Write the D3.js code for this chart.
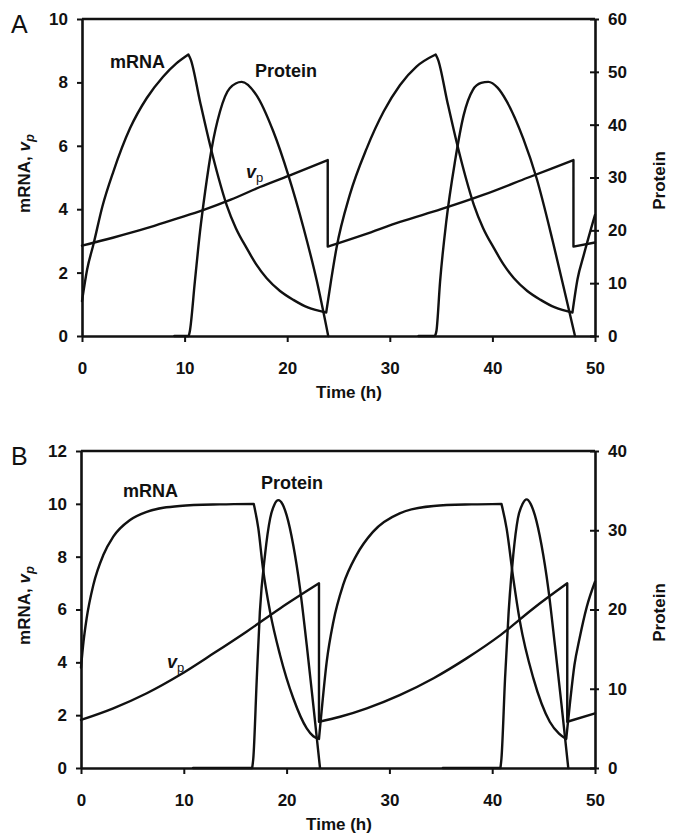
<!DOCTYPE html>
<html>
<head>
<meta charset="utf-8">
<script src="https://cdn.jsdelivr.net/npm/d3@7"></script>
<style>
  html, body { margin: 0; padding: 0; background: #fff; }
  svg { display: block; }
  text { font-family: "Liberation Sans", Arial, sans-serif; fill: #111; }
</style>
</head>
<body>
<svg id="chart" width="681" height="840"></svg>
<script>
// ---------------- DATA ----------------
// Panel A  (time in h, mRNA / vp on left axis, Protein on right axis)
const timeTicks = [0, 10, 20, 30, 40, 50];
const A_leftTicks = [0, 2, 4, 6, 8, 10];
const A_rightTicks = [0, 10, 20, 30, 40, 50, 60];
const B_leftTicks = [0, 2, 4, 6, 8, 10, 12];
const B_rightTicks = [0, 10, 20, 30, 40];

const A_mrna = [
  [0, 1.1], [0.5, 2.1], [1.1, 2.87], [2, 4.1], [3.05, 5.18], [4.68, 6.55], [6.3, 7.5],
  [7.9, 8.18], [9.2, 8.6], [10.37, 8.88], [10.37, 8.88], [10.6, 8.72], [11.5, 7.4],
  [12.5, 6.0], [13.3, 5.0], [14.1, 4.13], [15, 3.4], [16.05, 2.77], [17, 2.25], [18, 1.82],
  [19.3, 1.42], [20.6, 1.14], [22, 0.9], [23.8, 0.74], [23.8, 0.74],
  [24.3, 1.8], [24.8, 2.77], [26.1, 4.45], [27.75, 5.92], [29.4, 7.08], [31, 7.92],
  [32.6, 8.5], [34.47, 8.88], [34.47, 8.88], [34.7, 8.72], [35.6, 7.4], [36.6, 6.0],
  [37.4, 5.0], [38.2, 4.13], [39.1, 3.4], [40.15, 2.77], [41.1, 2.25], [42.1, 1.82],
  [43.4, 1.42], [44.7, 1.14], [46.1, 0.9], [47.8, 0.74], [47.8, 0.74],
  [48.3, 1.8], [48.9, 2.55], [50, 3.82]
];
const A_protein1 = [
  [9, 0], [10.4, 0], [10.4, 0], [10.5, 0.8], [11, 10.3], [11.5, 19.7], [12, 27.3],
  [12.64, 35.5], [13.45, 42.5], [14.4, 46.9], [15.56, 48.1], [17, 45.6], [18.65, 38.7],
  [20.1, 30.5], [21.6, 20.4], [22.9, 10.3], [24, 0]
];
const A_protein2 = [
  [32.8, 0], [34.4, 0], [34.4, 0], [34.55, 1], [34.9, 10.3], [35.5, 21.6], [36.35, 33],
  [37.2, 41.8], [38.1, 46.6], [38.9, 47.9], [39.6, 48.1], [40.5, 47], [41.4, 44.4],
  [43, 37.4], [44.3, 29.9], [45.9, 17.8], [47.2, 7.1], [48.05, 0]
];
const A_vp = [
  [0, 2.85], [3, 3.1], [6.3, 3.4], [9, 3.68], [11.8, 3.97], [14.5, 4.3], [17.35, 4.7],
  [20.5, 5.1], [23.95, 5.55], [23.95, 2.82], [27.5, 3.2], [31, 3.6], [35, 4.0],
  [39.1, 4.45], [43.5, 5.0], [47.9, 5.55], [47.9, 2.82], [50, 2.95]
];

// Panel B
const B_mrna = [
  [0, 3.8], [0.25, 4.8], [0.55, 5.67], [1.2, 6.93], [2.17, 8.06], [3.14, 8.76], [4.77, 9.39],
  [6.4, 9.7], [8, 9.85], [9.6, 9.92], [13.5, 9.98], [16.8, 10], [16.8, 10], [17.25, 9.07],
  [17.7, 7.56], [18.4, 5.9], [19.36, 4.28], [20.65, 2.64], [21.96, 1.5], [22.6, 1.2],
  [23.15, 1.1], [23.15, 1.1], [23.4, 2.13], [23.9, 4.02], [24.55, 5.54], [25.5, 6.93],
  [26.8, 8.06], [28.4, 8.94], [31, 9.64], [34.3, 9.92], [38, 9.98], [40.9, 10], [40.9, 10],
  [41.4, 9.07], [42.05, 7.18], [42.7, 5.54], [44, 3.4], [45.6, 1.75], [46.5, 1.3],
  [47.2, 1.1], [47.2, 1.1], [47.55, 2.4], [48, 3.9], [48.5, 4.91], [49.2, 6.1], [50, 7.05]
];
const B_protein1 = [
  [10.9, 0], [16.65, 0], [16.65, 0], [16.76, 1.2], [17.1, 11.3], [17.4, 19.7], [17.9, 26.9],
  [18.4, 31.5], [18.8, 33.2], [19.2, 33.8], [19.6, 33.3], [20, 31.9], [20.65, 28.1],
  [21.3, 22.7], [21.96, 15.5], [22.6, 7.9], [23.25, 0]
];
const B_protein2 = [
  [35.2, 0], [40.8, 0], [40.8, 0], [40.9, 1.2], [41.25, 11.3], [41.6, 19.7], [42.05, 26.9],
  [42.5, 31.5], [42.95, 33.3], [43.35, 33.9], [43.75, 33.3], [44.15, 31.9], [44.8, 28.1],
  [45.45, 22.7], [46.1, 15.5], [46.75, 7.9], [47.4, 0]
];
const B_vp = [
  [0, 1.82], [3.14, 2.26], [6.4, 2.83], [9.6, 3.52], [12.9, 4.34], [16.1, 5.16],
  [19.36, 6.04], [23.15, 6.99], [23.15, 1.75], [25.2, 1.94], [27.8, 2.26], [31, 2.76],
  [34.3, 3.4], [37.5, 4.15], [40.8, 5.03], [44, 6.04], [47.3, 6.99], [47.3, 1.75], [50, 2.07]
];

// ---------------- DRAWING ----------------
const svg = d3.select("#chart");
const INK = "#111";

function pathFor(data, x, y) {
  const runs = [[data[0]]];
  for (let i = 1; i < data.length; i++) {
    if (data[i][0] <= data[i - 1][0]) runs.push([data[i]]);
    else runs[runs.length - 1].push(data[i]);
  }
  const gen = d3.line().x(d => x(d[0])).y(d => y(d[1])).curve(d3.curveMonotoneX);
  return runs.map((r, i) => {
    const s = r.length > 1 ? gen(r) : `M${x(r[0][0])},${y(r[0][1])}`;
    return i === 0 ? s : s.replace(/^M/, "L");
  }).join("");
}

function panel(cfg) {
  const g = svg.append("g");
  const x = d3.scaleLinear().domain([0, 50]).range([cfg.left, cfg.right]);
  const yL = d3.scaleLinear().domain([0, cfg.leftMax]).range([cfg.bottom, cfg.top]);
  const yR = d3.scaleLinear().domain([0, cfg.rightMax]).range([cfg.bottom, cfg.top]);

  // curves
  const curves = g.append("g").attr("fill", "none").attr("stroke", INK)
    .attr("stroke-width", 2.4).attr("stroke-linejoin", "round").attr("stroke-linecap", "round");
  curves.append("path").attr("d", pathFor(cfg.mrna, x, yL));
  curves.append("path").attr("d", pathFor(cfg.vp, x, yL));
  cfg.protein.forEach(p => curves.append("path").attr("d", pathFor(p, x, yR)));

  // frame top
  g.append("line").attr("x1", cfg.left).attr("x2", cfg.right)
    .attr("y1", cfg.top).attr("y2", cfg.top).attr("stroke", INK).attr("stroke-width", 2.6);

  const styleAxis = (sel) => {
    sel.select(".domain").attr("stroke", INK).attr("stroke-width", 2.6);
    sel.selectAll(".tick line").attr("stroke", INK).attr("stroke-width", 2);
    sel.selectAll(".tick text").style("font-family", '"Liberation Sans", Arial, sans-serif')
      .style("font-weight", "bold").style("font-size", "17px").attr("fill", INK);
  };

  // bottom axis
  g.append("g").attr("transform", `translate(0,${cfg.bottom})`)
    .call(d3.axisBottom(x).tickValues(timeTicks).tickSizeInner(6).tickSizeOuter(0).tickPadding(20))
    .call(styleAxis);
  // left axis
  g.append("g").attr("transform", `translate(${cfg.left},0)`)
    .call(d3.axisLeft(yL).tickValues(cfg.leftTicks).tickSizeInner(5).tickSizeOuter(0).tickPadding(9))
    .call(styleAxis);
  // right axis (ticks crossing)
  const ra = g.append("g").attr("transform", `translate(${cfg.right},0)`)
    .call(d3.axisRight(yR).tickValues(cfg.rightTicks).tickSizeInner(4).tickSizeOuter(0).tickPadding(9))
    .call(styleAxis);
  ra.selectAll(".tick line").attr("x1", -5);

  // panel letter
  g.append("text").attr("x", 11).attr("y", cfg.top + 14).style("font-size", "25px")
    .text(cfg.letter);

  // axis titles
  g.append("text").attr("x", cfg.timeX).attr("y", cfg.bottom + 62).attr("text-anchor", "middle")
    .style("font-size", "17px").style("font-weight", "bold").text("Time (h)");

  const lt = g.append("text")
    .attr("transform", `translate(30,${(cfg.top + cfg.bottom) / 2 - 4}) rotate(-90)`)
    .attr("text-anchor", "middle").style("font-size", "17px").style("font-weight", "bold");
  lt.append("tspan").text("mRNA, ");
  lt.append("tspan").style("font-style", "italic").text("v");
  lt.append("tspan").attr("dy", 4).style("font-size", "13px").style("font-style", "italic").text("p");

  g.append("text")
    .attr("transform", `translate(665,${(cfg.top + cfg.bottom) / 2 + 3}) rotate(-90)`)
    .attr("text-anchor", "middle").style("font-size", "17px").style("font-weight", "bold")
    .text("Protein");

  // in-plot labels
  const lab = (t, px, py) => g.append("text").attr("x", px).attr("y", py)
    .style("font-size", "18px").style("font-weight", "bold").text(t);
  lab("mRNA", cfg.mrnaLab[0], cfg.mrnaLab[1]);
  lab("Protein", cfg.protLab[0], cfg.protLab[1]);
  const vt = g.append("text").attr("x", cfg.vpLab[0]).attr("y", cfg.vpLab[1])
    .style("font-size", "18px").style("font-weight", "bold");
  vt.append("tspan").style("font-style", "italic").text("v");
  vt.append("tspan").attr("dy", 4).style("font-size", "13px").style("font-weight", "normal").text("p");
}

panel({
  letter: "A", left: 82, right: 595, top: 19, bottom: 336,
  leftMax: 10, rightMax: 60, leftTicks: A_leftTicks, rightTicks: A_rightTicks,
  mrna: A_mrna, vp: A_vp, protein: [A_protein1, A_protein2],
  mrnaLab: [110, 68], protLab: [255, 77], vpLab: [246, 178], timeX: 349
});
panel({
  letter: "B", left: 81, right: 595, top: 451, bottom: 768,
  leftMax: 12, rightMax: 40, leftTicks: B_leftTicks, rightTicks: B_rightTicks,
  mrna: B_mrna, vp: B_vp, protein: [B_protein1, B_protein2],
  mrnaLab: [123, 497], protLab: [261, 489], vpLab: [167, 668], timeX: 339
});
</script>
</body>
</html>
